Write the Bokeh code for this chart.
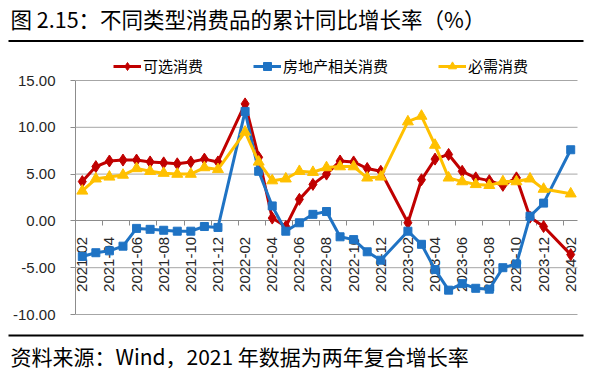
from bokeh.plotting import figure
from bokeh.models import (FixedTicker, NumeralTickFormatter, Label, CustomJSTickFormatter,
                          Legend, LegendItem, Range1d, ColumnDataSource)
from bokeh.embed import file_html
from bokeh.resources import INLINE

# ---------------- data ----------------
months = ["2021-02", "2021-03", "2021-04", "2021-05", "2021-06", "2021-07", "2021-08",
          "2021-09", "2021-10", "2021-11", "2021-12",
          "2022-02", "2022-03", "2022-04", "2022-05", "2022-06", "2022-07", "2022-08",
          "2022-09", "2022-10", "2022-11", "2022-12",
          "2023-02", "2023-03", "2023-04", "2023-05", "2023-06", "2023-07", "2023-08",
          "2023-09", "2023-10", "2023-11", "2023-12",
          "2024-02"]

optional = [4.2, 5.8, 6.4, 6.5, 6.5, 6.3, 6.2, 6.1, 6.3, 6.6, 6.3,
            12.5, 6.8, 0.3, -0.6, 2.3, 3.9, 5.0, 6.4, 6.3, 5.6, 5.3,
            -0.2, 4.4, 6.6, 7.1, 5.3, 4.6, 4.3, 3.8, 4.6, 0.4, -0.6,
            -3.6]
realestate = [-3.8, -3.4, -3.2, -2.7, -0.8, -0.9, -1.0, -1.1, -1.1, -0.6, -0.7,
              11.7, 5.3, 1.6, -1.1, -0.2, 0.7, 1.0, -1.7, -2.0, -3.3, -4.2,
              -1.1, -2.5, -5.2, -7.4, -6.7, -7.2, -7.3, -5.0, -4.6, 0.5, 1.9,
              7.6]
essential = [3.2, 4.5, 4.7, 4.9, 5.6, 5.3, 5.1, 5.0, 5.0, 5.7, 5.5,
             9.5, 6.3, 4.3, 4.5, 5.3, 5.2, 5.7, 5.8, 5.8, 4.6, 4.7,
             10.6, 11.2, 8.1, 4.6, 4.2, 3.9, 3.8, 4.2, 4.2, 4.5, 3.4,
             2.9]

series_names = ["可选消费", "房地产相关消费", "必需消费"]
y_ticks = [-10, -5, 0, 5, 10, 15]

title_text = "图 2.15：不同类型消费品的累计同比增长率（%）"
source_text = "资料来源：Wind，2021 年数据为两年复合增长率"

# month index on a monthly date axis (January has no data)
def month_index(s):
    y, m = s.split("-")
    return (int(y) - 2021) * 12 + int(m) - 2

xs = [month_index(m) for m in months]
n_months = month_index(months[-1])

src = ColumnDataSource(dict(x=xs, a=optional, b=realestate, c=essential))

# ---------------- layout (pixels) ----------------
W, H = 590, 383
PL, PR, PT, PB = 75, 577, 80, 314          # plot area edges
x0, x1 = -0.5, n_months + 0.5
y0, y1 = y_ticks[0], y_ticks[-1]
ppm = (PR - PL) / (x1 - x0)
ppu = (PB - PT) / (y1 - y0)
xr = Range1d(x0 - PL / ppm, x1 + (W - PR) / ppm)
yr = Range1d(y0 - (H - PB) / ppu, y1 + PT / ppu)

def fx(px):
    return xr.start + px / ppm

def fy(py):
    return yr.end - py / ppu

RED = "#C00000"
BLUE = "#1F73C4"
YEL = "#FFC000"
GRID = "#A6A6A6"
AX = "#8C8C8C"
CJK = "Noto Sans CJK SC"

p = figure(width=W, height=H, output_backend="svg", toolbar_location=None,
           x_range=xr, y_range=yr, min_border=0)
p.min_border_left = p.min_border_right = p.min_border_top = p.min_border_bottom = 0
p.title.visible = False
p.outline_line_color = None
p.background_fill_color = "white"
p.border_fill_color = "white"
p.xgrid.visible = False
p.ygrid.visible = False

# horizontal gridlines of the plot area
grid_levels = [v for v in y_ticks if v != 0]
p.segment(x0=[x0] * len(grid_levels), x1=[x1] * len(grid_levels),
          y0=grid_levels, y1=grid_levels, line_color=GRID, line_width=1)

# rules above and below the chart
rules_y = [fy(40.5), fy(335)]
p.segment(x0=[fx(8)] * 2, x1=[fx(583)] * 2, y0=rules_y, y1=rules_y,
          line_color="black", line_width=2)

# ---- series ----
l1 = p.line("x", "a", source=src, color=RED, line_width=3)
s1 = p.scatter("x", "a", source=src, marker="diamond", size=12, color=RED)
l2 = p.line("x", "b", source=src, color=BLUE, line_width=3)
s2 = p.scatter("x", "b", source=src, marker="square", size=8, color=BLUE)
l3 = p.line("x", "c", source=src, color=YEL, line_width=3)
s3 = p.scatter("x", "c", source=src, marker="triangle", size=11, color=YEL)

# ---- x axis crossing at y = 0 ----
label_idx = [xs[i] for i, m in enumerate(months) if int(m[-2:]) % 2 == 0]
label_list = [""] * (n_months + 1)
for i, m in enumerate(months):
    if int(m[-2:]) % 2 == 0:
        label_list[xs[i]] = m
boundaries = [x0] + [v + 1.5 for v in label_idx[:-1]]

xa = p.xaxis[0]
xa.ticker = FixedTicker(ticks=label_idx, minor_ticks=boundaries)
xa.formatter = CustomJSTickFormatter(args=dict(labels=label_list),
                                     code="return labels[Math.round(tick)] || '';")
xa.fixed_location = 0
xa.bounds = (x0, x1)
xa.level = "underlay"
xa.major_label_orientation = 1.5708
xa.major_tick_in = 0
xa.major_tick_out = 0
xa.minor_tick_in = 0
xa.minor_tick_out = 5
xa.minor_tick_line_color = AX
xa.axis_line_color = AX
xa.major_label_standoff = 11
xa.major_label_text_font = "Liberation Sans"
xa.major_label_text_font_size = "15px"
xa.major_label_text_color = "#262626"

ya = p.yaxis[0]
ya.ticker = FixedTicker(ticks=y_ticks)
ya.formatter = NumeralTickFormatter(format="0.00")
ya.fixed_location = x0
ya.bounds = (y0, y1)
ya.level = "underlay"
ya.minor_tick_line_color = None
ya.major_tick_in = 0
ya.major_tick_out = 5
ya.major_tick_line_color = AX
ya.axis_line_color = AX
ya.major_label_standoff = 15
ya.major_label_text_font = "Liberation Sans"
ya.major_label_text_font_size = "15px"
ya.major_label_text_color = "#262626"

# ---- legend above the plot area ----
legend = Legend(items=[LegendItem(label=series_names[0], renderers=[l1, s1]),
                       LegendItem(label=series_names[1], renderers=[l2, s2]),
                       LegendItem(label=series_names[2], renderers=[l3, s3])],
                orientation="horizontal", location=(113, H - 76),
                glyph_width=28, glyph_height=20, label_standoff=2, spacing=50,
                padding=0, margin=0, border_line_color=None, background_fill_alpha=0,
                label_text_font=CJK, label_text_font_size="15px", label_text_color="#000000")
p.add_layout(legend)

# ---- title / source ----
p.add_layout(Label(x=fx(10), y=fy(18), text=title_text,
                   text_font=CJK, text_font_size="21.5px", text_baseline="middle",
                   text_color="#000000"))
p.add_layout(Label(x=fx(10), y=fy(355), text=source_text,
                   text_font=CJK, text_font_size="21px", text_baseline="middle",
                   text_color="#000000"))

open("out.html", "w").write(file_html(p, INLINE))
